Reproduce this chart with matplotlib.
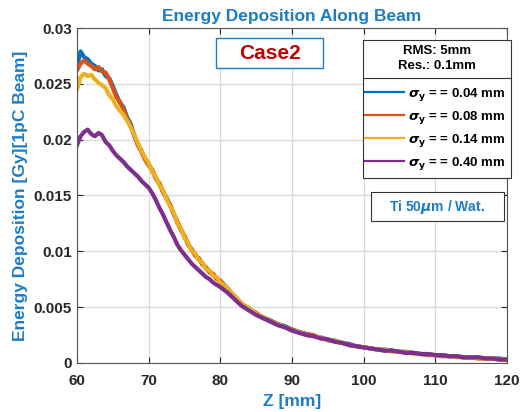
import numpy as np
import matplotlib
matplotlib.use("Agg")
import matplotlib.pyplot as plt
from matplotlib.patches import Rectangle

plt.rcParams['font.family'] = ['Liberation Sans', 'DejaVu Sans']
plt.rcParams['font.weight'] = 'bold'
plt.rcParams['mathtext.fontset'] = 'dejavusans'

# sample positions: 0.5 mm up to 80 mm, then 1 mm
z = np.concatenate([np.arange(60, 80.5, 0.5), np.arange(81, 121, 1.0)])

dose_004 = [0.0265, 0.0279, 0.0274, 0.0272, 0.0268, 0.0266, 0.0262, 0.0263, 0.0257, 0.0255,
            0.0248, 0.0240, 0.0233, 0.0229, 0.0220, 0.0214, 0.0203, 0.0196, 0.0190, 0.0183,
            0.0178, 0.0172, 0.0166, 0.0160, 0.0154, 0.0148, 0.0141, 0.0134, 0.0126, 0.0120,
            0.0113, 0.0107, 0.0101, 0.0097, 0.0093, 0.0089, 0.0085, 0.0082, 0.0079, 0.0076,
            0.0073,
            0.0067, 0.0059, 0.0052, 0.0049, 0.0044, 0.0041, 0.0038, 0.0035, 0.0033, 0.0030,
            0.0028, 0.0026, 0.0024, 0.0023, 0.0021, 0.0020, 0.0018, 0.0017, 0.0015, 0.0014,
            0.0013, 0.0012, 0.0012, 0.0011, 0.0010, 0.0010, 0.0009, 0.0008, 0.0008, 0.0007,
            0.0007, 0.0006, 0.0006, 0.0005, 0.0005, 0.0005, 0.0004, 0.0004, 0.0004, 0.0003]

dose_008 = [0.0262, 0.0268, 0.0271, 0.0268, 0.0266, 0.0263, 0.0265, 0.0261, 0.0260, 0.0254,
            0.0246, 0.0238, 0.0234, 0.0227, 0.0219, 0.0212, 0.0204, 0.0195, 0.0189, 0.0182,
            0.0177, 0.0173, 0.0165, 0.0161, 0.0153, 0.0147, 0.0142, 0.0133, 0.0127, 0.0119,
            0.0114, 0.0106, 0.0102, 0.0096, 0.0094, 0.0088, 0.0086, 0.0081, 0.0080, 0.0075,
            0.0074,
            0.0066, 0.0060, 0.0053, 0.0048, 0.0045, 0.0040, 0.0038, 0.0034, 0.0032, 0.0030,
            0.0027, 0.0026, 0.0025, 0.0022, 0.0021, 0.0019, 0.0018, 0.0016, 0.0015, 0.0014,
            0.0013, 0.0012, 0.0011, 0.0011, 0.0010, 0.0009, 0.0009, 0.0008, 0.0007, 0.0007,
            0.0006, 0.0006, 0.0006, 0.0005, 0.0005, 0.0004, 0.0004, 0.0004, 0.0003, 0.0003]

dose_014 = [0.0245, 0.0256, 0.0259, 0.0257, 0.0258, 0.0254, 0.0251, 0.0249, 0.0246, 0.0240,
            0.0236, 0.0230, 0.0226, 0.0222, 0.0217, 0.0211, 0.0204, 0.0197, 0.0190, 0.0184,
            0.0179, 0.0171, 0.0167, 0.0159, 0.0155, 0.0147, 0.0140, 0.0135, 0.0125, 0.0121,
            0.0112, 0.0108, 0.0100, 0.0098, 0.0092, 0.0090, 0.0084, 0.0083, 0.0078, 0.0077,
            0.0072,
            0.0067, 0.0060, 0.0053, 0.0049, 0.0044, 0.0041, 0.0037, 0.0035, 0.0032, 0.0029,
            0.0028, 0.0025, 0.0024, 0.0023, 0.0020, 0.0020, 0.0018, 0.0016, 0.0015, 0.0014,
            0.0013, 0.0012, 0.0012, 0.0010, 0.0010, 0.0010, 0.0008, 0.0008, 0.0008, 0.0007,
            0.0007, 0.0006, 0.0005, 0.0005, 0.0005, 0.0004, 0.0004, 0.0004, 0.0003, 0.0003]

dose_040 = [0.0195, 0.0203, 0.0207, 0.0209, 0.0205, 0.0203, 0.0206, 0.0204, 0.0198, 0.0195,
            0.0190, 0.0186, 0.0183, 0.0180, 0.0176, 0.0173, 0.0170, 0.0167, 0.0163, 0.0160,
            0.0157, 0.0152, 0.0146, 0.0139, 0.0133, 0.0126, 0.0119, 0.0113, 0.0106, 0.0101,
            0.0097, 0.0093, 0.0089, 0.0086, 0.0083, 0.0080, 0.0077, 0.0075, 0.0072, 0.0070,
            0.0068,
            0.0063, 0.0057, 0.0051, 0.0047, 0.0043, 0.0040, 0.0037, 0.0034, 0.0032, 0.0029,
            0.0027, 0.0025, 0.0024, 0.0022, 0.0021, 0.0019, 0.0018, 0.0016, 0.0015, 0.0014,
            0.0013, 0.0012, 0.0011, 0.0011, 0.0010, 0.0009, 0.0009, 0.0008, 0.0008, 0.0007,
            0.0007, 0.0006, 0.0006, 0.0005, 0.0005, 0.0005, 0.0004, 0.0004, 0.0003, 0.0003]

labels = ['0.04', '0.08', '0.14', '0.40']
colors = ['#0072BD', '#D95319', '#EDB120', '#7E2F8E']
blue_txt = '#1C7CC6'

fig = plt.figure(figsize=(5.2, 4.12), dpi=100)
ax = fig.add_axes([0.148, 0.119, 0.827, 0.813])

for d, lab, c in zip([dose_004, dose_008, dose_014, dose_040], labels, colors):
    ax.plot(z, d, color=c, lw=3.0, label=r'$\sigma_\mathbf{y}$ = = ' + lab + ' mm')

ax.set_xlim(60, 120)
ax.set_ylim(0, 0.03)
ax.set_xticks(np.arange(60, 121, 10))
ax.set_yticks([0, 0.005, 0.01, 0.015, 0.02, 0.025, 0.03])
ax.set_yticklabels(['0', '0.005', '0.01', '0.015', '0.02', '0.025', '0.03'])
ax.grid(True, color='#d9d9d9', lw=0.9)
ax.set_axisbelow(True)
ax.tick_params(direction='in', top=True, right=True, labelsize=11,
               colors='#262626', length=4)
ax.tick_params(axis='x', pad=8)
for s in ax.spines.values():
    s.set_color('#555555')

ax.set_title('Energy Deposition Along Beam', color=blue_txt, fontsize=12.5,
             fontweight='bold', pad=5)
ax.set_xlabel('Z [mm]', color=blue_txt, fontsize=12.5, fontweight='bold', labelpad=4)
ax.set_ylabel('Energy Deposition [Gy][1pC Beam]', color=blue_txt, fontsize=12.5,
              fontweight='bold', labelpad=4)

# legend box with a header row
tr = ax.transAxes
ax.add_patch(Rectangle((0.665, 0.552), 0.345, 0.412, transform=tr, fc='white',
                       ec='#333333', lw=0.8, clip_on=False, zorder=4))
ax.plot([0.665, 1.01], [0.851, 0.851], transform=tr, color='#333333', lw=0.8,
        clip_on=False, zorder=5)
ax.text(0.838, 0.908, 'RMS: 5mm\nRes.: 0.1mm', transform=tr, ha='center',
        va='center', fontsize=9.5, color='black', linespacing=1.35, zorder=6)
leg = ax.legend(loc='upper left', bbox_to_anchor=(0.66, 0.84), fontsize=9.5,
                frameon=False, handlelength=3.0, handletextpad=0.25,
                labelspacing=0.47, borderpad=0.3, borderaxespad=0)
leg.set_zorder(6)
for h in leg.get_lines():
    h.set_linewidth(1.6)

# "Case2" label box
ax.add_patch(Rectangle((0.323, 0.881), 0.249, 0.089, transform=tr, fc='white',
                       ec=blue_txt, lw=1.0, zorder=4))
ax.text(0.448, 0.925, 'Case2', transform=tr, ha='center', va='center',
        fontsize=15, color='#C00000', zorder=5)

# material box
ax.add_patch(Rectangle((0.684, 0.424), 0.309, 0.086, transform=tr, fc='white',
                       ec='#333333', lw=0.8, zorder=4))
ax.text(0.838, 0.467, r'Ti 50$\mu$m / Wat.', transform=tr, ha='center',
        va='center', fontsize=10, color=blue_txt, zorder=5)

fig.savefig('out.png', dpi=100)
